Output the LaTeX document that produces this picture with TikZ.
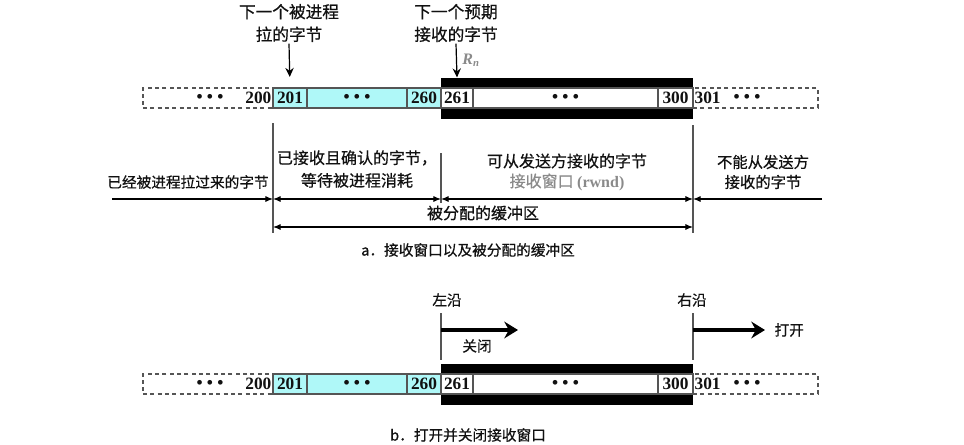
\documentclass[tikz,border=0pt]{standalone}
\usepackage{fontspec}
\setmainfont{Liberation Serif}
\newfontfamily\cjk[FakeBold=0.6]{Noto Sans CJK SC}
\usetikzlibrary{arrows.meta}
\definecolor{winInk}{HTML}{111111}
\definecolor{winGray}{HTML}{555555}
\definecolor{winCyan}{HTML}{AFF8F8}
\definecolor{winLabel}{HTML}{8A8A8A}
\newdimen\px \px=0.75pt
\tikzset{
  every picture/.style={text=winInk},
  win cell/.style={draw=winGray, line width=0.8pt, minimum height=20\px,
    inner sep=0pt, outer sep=0pt, font=\bfseries\fontsize{13}{14}\selectfont},
  win free/.style={draw=winGray, line width=0.8pt, dash pattern=on 3pt off 2.5pt,
    minimum height=20\px, inner sep=0pt, outer sep=0pt},
  win band/.style={fill=black, minimum height=41\px, minimum width=252\px,
    inner sep=0pt, outer sep=0pt},
  win text/.style={font=\cjk\fontsize{12}{17}\selectfont, align=center, inner sep=1pt},
  win small/.style={font=\cjk\fontsize{11}{14}\selectfont, inner sep=1pt},
  win num/.style={font=\bfseries\fontsize{13}{14}\selectfont, inner sep=1pt},
  win edge/.style={draw=winGray, line width=0.8pt},
  win dim/.style={{Latex[length=2mm,width=1.6mm]}-{Latex[length=2mm,width=1.6mm]},
    line width=0.8pt},
  win arrow/.style={-{Latex[length=2mm,width=1.6mm]}, line width=0.8pt},
  win mark/.style={-{Stealth[length=2.4mm,width=2.2mm]}, line width=0.9pt},
  win move/.style={-{Stealth[length=3.6mm,width=4.4mm]}, line width=3pt}
}

\begin{document}
\begin{tikzpicture}[x=0.75pt,y=-0.75pt]
  \useasboundingbox (0,0) rectangle (964,444);
  % the two byte strips
  \foreach \s/\y in {a/98,b/384}{
  \begin{scope}[shift={(0,\y)}, name prefix=\s-]
    \node[win band] (band) at (567,0) {};
    \node[win free, minimum width=130\px] (old) at (208,0) {};
    \node[win free, minimum width=125\px] (new) at (755.5,0) {};
    \node[win cell, fill=winCyan, minimum width=34\px] (c201) at (290,0) {201};
    \node[win cell, fill=winCyan, minimum width=100\px] (held) at (357,0) {\textbullet\ \textbullet\ \textbullet};
    \node[win cell, fill=winCyan, minimum width=34\px] (c260) at (424,0) {260};
    \node[win cell, fill=white, minimum width=32\px] (c261) at (457,0) {261};
    \node[win cell, fill=white, minimum width=185\px] (open) at (565.5,0) {\textbullet\ \textbullet\ \textbullet};
    \node[win cell, fill=white, minimum width=35\px] (c300) at (675.5,0) {300};
    \node[win num, anchor=east] (c200) at (old.east) {200};
    \node[win num] (olddots) at (210,0) {\textbullet\ \textbullet\ \textbullet};
    \node[win num, anchor=west] (c301) at (new.west) {301};
    \node[win num] (newdots) at (747,0) {\textbullet\ \textbullet\ \textbullet};
  \end{scope}
  }

  % part a: pointers
  \node[win text, font=\cjk\fontsize{12.5}{17}\selectfont] (nextPull) at (289,23) {下一个被进程\\拉的字节};
  \node[win text, font=\cjk\fontsize{12.5}{17}\selectfont] (nextRecv) at (456,23) {下一个预期\\接收的字节};
  \draw[win mark] (nextPull.south) -- (a-c201.north) [shorten >=11\px];
  \draw[win mark] (nextRecv.south) -- (a-c261 |- a-band.north);
  \node[text=winLabel, font=\bfseries\itshape\fontsize{12}{14}\selectfont] (rn) at (471,60) {R\textsubscript{n}};

  % part a: regions
  \coordinate (aTop) at (273,123);
  \coordinate (aBot) at (273,233);
  \coordinate (bTop) at (441,153);
  \coordinate (bBot) at (441,203);
  \coordinate (cTop) at (693,125);
  \coordinate (cBot) at (693,233);
  \coordinate (rowOne) at (0,199);
  \coordinate (rowTwo) at (0,227);
  \coordinate (pulledEnd) at (112,199);
  \coordinate (blockedEnd) at (822,199);
  \draw[win edge] (aTop) -- (aBot);
  \draw[win edge] (bTop) -- (bBot);
  \draw[win edge] (cTop) -- (cBot);
  \draw[win arrow] (pulledEnd) -- (aTop |- rowOne);
  \draw[win dim] (aTop |- rowOne) -- (bTop |- rowOne);
  \draw[win dim] (bTop |- rowOne) -- (cTop |- rowOne);
  \draw[win arrow] (blockedEnd) -- (cTop |- rowOne);
  \draw[win dim] (aTop |- rowTwo) -- (cTop |- rowTwo);

  \node[win small] (pulled) at (188,182) {已经被进程拉过来的字节};
  \node[win text] (waiting) at (357,169) {已接收且确认的字节，\\等待被进程消耗};
  \node[win text, font=\cjk\fontsize{12}{15}\selectfont] (window) at (567,172)
    {可从发送方接收的字节\\{\color{winLabel}接收窗口 {\rmfamily\bfseries (rwnd)}}};
  \node[win text, font=\cjk\fontsize{11.5}{15}\selectfont] (blocked) at (763,172) {不能从发送方\\接收的字节};
  \node[win text] (buffer) at (483,213) {被分配的缓冲区};
  \node[win small] (capA) at (468,250) {a．接收窗口以及被分配的缓冲区};

  % part b: moving edges
  \coordinate (leftTop) at (441,313);
  \coordinate (leftBot) at (441,360);
  \coordinate (rightTop) at (693,313);
  \coordinate (rightBot) at (693,360);
  \coordinate (moveRow) at (0,330);
  \coordinate (closeEnd) at (518,330);
  \coordinate (openEnd) at (765,330);
  \draw[win edge] (leftTop) -- (leftBot);
  \draw[win edge] (rightTop) -- (rightBot);
  \draw[win move] (leftTop |- moveRow) -- (closeEnd);
  \draw[win move] (rightTop |- moveRow) -- (openEnd);
  \node[win small] (leftLbl) at (447,300) {左沿};
  \node[win small] (rightLbl) at (692,300) {右沿};
  \node[win small] (closeLbl) at (477,346) {关闭};
  \node[win small, anchor=west] (openLbl) at (773,330) {打开};
  \node[win small] (capB) at (468,435) {b．打开并关闭接收窗口};
\end{tikzpicture}
\end{document}
